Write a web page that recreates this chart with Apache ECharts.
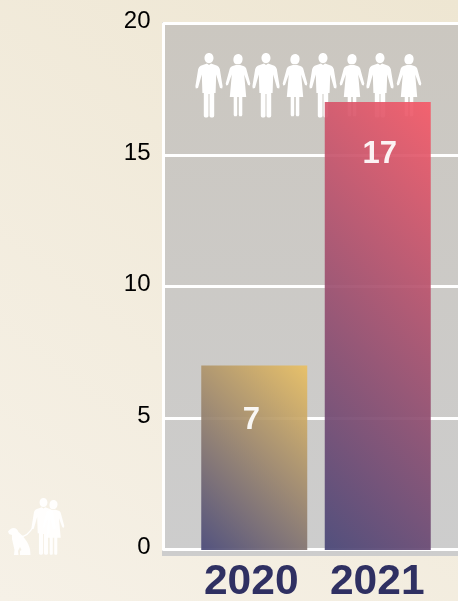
<!DOCTYPE html>
<html><head><meta charset="utf-8">
<style>html,body{margin:0;padding:0;background:#f2ecdf}#c{width:458px;height:601px}</style>
<script src="https://cdn.jsdelivr.net/npm/echarts@6/dist/echarts.min.js"></script>
</head><body><div id="c"></div>
<script>
const categories = ['2020', '2021'];
const values = [7, 17];
const yTicks = [0, 5, 10, 15, 20];
const colorPairs = [['#EAC062', '#484878'], ['#F75A68', '#474576']];

const MAN = 'M0 0C2.7 0 4.5 2.2 4.5 5C4.5 7.8 2.7 10.2 0 10.2C-2.7 10.2 -4.5 7.8 -4.5 5C-4.5 2.2 -2.7 0 0 0Z' +
  'M-2 10.5L0 12L2 10.5L8.3 12.7Q10 13.4 10.8 16L13.6 33.2L13.2 35.4L11 35L7.2 21.5L6.6 40L5.2 40L5.2 62.8Q5.2 64.5 3.7 64.5L2 64.5Q0.5 64.5 0.5 62.8L0.5 41L-0.5 41L-0.5 62.8Q-0.5 64.5 -2 64.5L-3.7 64.5Q-5.2 64.5 -5.2 62.8L-5.2 40L-6.6 40L-7.2 21.5L-11 35L-13.2 35.4L-13.6 33.2L-10.8 16Q-10 13.4 -8.3 12.7Z';
const WOMAN = 'M0 0C3 0 4.8 2.5 4.6 5.2C4.4 8 3 10 1.4 10.2L-2 10.2C-4 9.8 -4.8 7.4 -4.6 5C-4.4 2.2 -2.8 0 0 0Z' +
  'M-2.2 11L2.2 11L6 12.2Q7.6 12.8 8.2 14.6L12.3 29.6L11.8 31.6L10 31L6.2 20.6L8.2 43L4.3 43L4.3 61L3.7 62.3L1.4 62.3L0.8 61L0.8 43L-0.8 43L-0.8 61L-1.4 62.3L-3.7 62.3L-4.3 61L-4.3 43L-8.2 43L-6.2 20.6L-10 31L-11.8 31.6L-12.3 29.6L-8.2 14.6Q-7.6 12.8 -6 12.2Z';
const DOG = 'M1 3.5Q3.5 0 6.5 0Q10 0 11.5 4Q16.5 8 19.5 13Q23.5 19 23.5 27L13 27L13 23L14.5 22L13 19L11 23L11.5 27L7 27L7.5 22L5 11L5 7L2 6Z';
const LEASH = 'M12 8Q20 8.5 26 -2L27 -1.5Q21 10 12 9.5Z';

echarts.graphic.registerShape('iconMan', echarts.graphic.extendPath(MAN, {}));
echarts.graphic.registerShape('iconWoman', echarts.graphic.extendPath(WOMAN, {}));
echarts.graphic.registerShape('iconDog', echarts.graphic.extendPath(DOG, {}));
echarts.graphic.registerShape('iconLeash', echarts.graphic.extendPath(LEASH, {}));

const people = [
  [209, 53, 'iconMan'], [238, 54, 'iconWoman'], [266, 53, 'iconMan'], [295, 54, 'iconWoman'],
  [323, 53, 'iconMan'], [352, 54, 'iconWoman'], [380, 53, 'iconMan'], [409, 54, 'iconWoman']
];
const pathEl = (type, x, y, s, fill, z) => ({
  type, x, y, scaleX: s, scaleY: s, z, silent: true, style: { fill }
});
const G = (x0, y0, x1, y1, a, b) => new echarts.graphic.LinearGradient(x0, y0, x1, y1, [
  { offset: 0, color: a }, { offset: 1, color: b }
]);

const graphics = [
  { type: 'rect', x: 162, y: 22, z: -5, silent: true, shape: { width: 296, height: 534 },
    style: { fill: G(0, 0, 0, 1, '#CBC7C0', '#CDCDCD') } }
];
people.forEach(p => graphics.push(pathEl(p[2], p[0], p[1], 1, '#ffffff', -1)));
const sideFill = 'rgba(255,255,255,0.92)';
graphics.push(pathEl('iconMan', 43.5, 498, 0.88, sideFill, -1));
graphics.push(pathEl('iconWoman', 53.5, 500, 0.88, sideFill, -1));
graphics.push(pathEl('iconDog', 7, 528, 1, sideFill, -1));
graphics.push(pathEl('iconLeash', 7, 528, 1, sideFill, -1));

const barGradient = [[1.373, 0.214], [2.63, 0.383]];
const labelShift = [[-3, 5], [2, 3]];
const catStyle = { fontFamily: 'Liberation Sans', fontWeight: 'bold', fontSize: 42.5, color: '#2F3062' };

const chart = echarts.init(document.getElementById('c'), null, { renderer: 'canvas' });
chart.setOption({
  animation: false,
  backgroundColor: G(1, 0, 0, 1, '#EEE6D2', '#F6F1E7'),
  graphic: graphics,
  grid: [
    { left: 163.5, top: 23.5, width: 296, height: 526, outerBoundsMode: 'none' },
    { left: 192.5, top: 23, width: 247, height: 527, outerBoundsMode: 'none' }
  ],
  xAxis: [
    { type: 'value', gridIndex: 0, min: 0, max: 1, show: false },
    { type: 'category', gridIndex: 1, data: categories,
      axisLine: { show: false }, axisTick: { show: false }, splitLine: { show: false },
      axisLabel: { interval: 0, hideOverlap: false, margin: 11,
        formatter: v => v === categories[0] ? '{a|' + v + '}' : '{b|' + v + '}',
        rich: {
          a: Object.assign({ padding: [0, 6, 0, 0] }, catStyle),
          b: Object.assign({ padding: [0, 1, 0, 0] }, catStyle)
        } } }
  ],
  yAxis: [
    { type: 'value', gridIndex: 0, min: 0, max: 20, interval: 5,
      axisLine: { show: true, lineStyle: { color: '#fff', width: 3 } },
      axisTick: { show: false },
      splitLine: { show: true, lineStyle: { color: '#fff', width: 3 } },
      axisLabel: { margin: 13,
        formatter: v => yTicks.includes(v) ? '{t|' + v + '}' : '',
        rich: { t: { fontFamily: 'Liberation Sans', fontSize: 24, color: '#000', padding: [0, 0, 4, 0] } } } },
    { type: 'value', gridIndex: 1, min: 0, max: 20, show: false }
  ],
  series: [{
    type: 'bar', xAxisIndex: 1, yAxisIndex: 1, barWidth: 106,
    data: values.map((v, i) => ({
      value: v,
      itemStyle: {
        color: G(0, 1, barGradient[i][0], barGradient[i][1], colorPairs[i][1], colorPairs[i][0]),
        opacity: 0.92
      },
      label: { offset: labelShift[i] }
    })),
    label: { show: true, position: 'insideTop', distance: 34, fontFamily: 'Liberation Sans',
      fontWeight: 'bold', fontSize: 31, color: '#fff' }
  }]
});
</script></body></html>
